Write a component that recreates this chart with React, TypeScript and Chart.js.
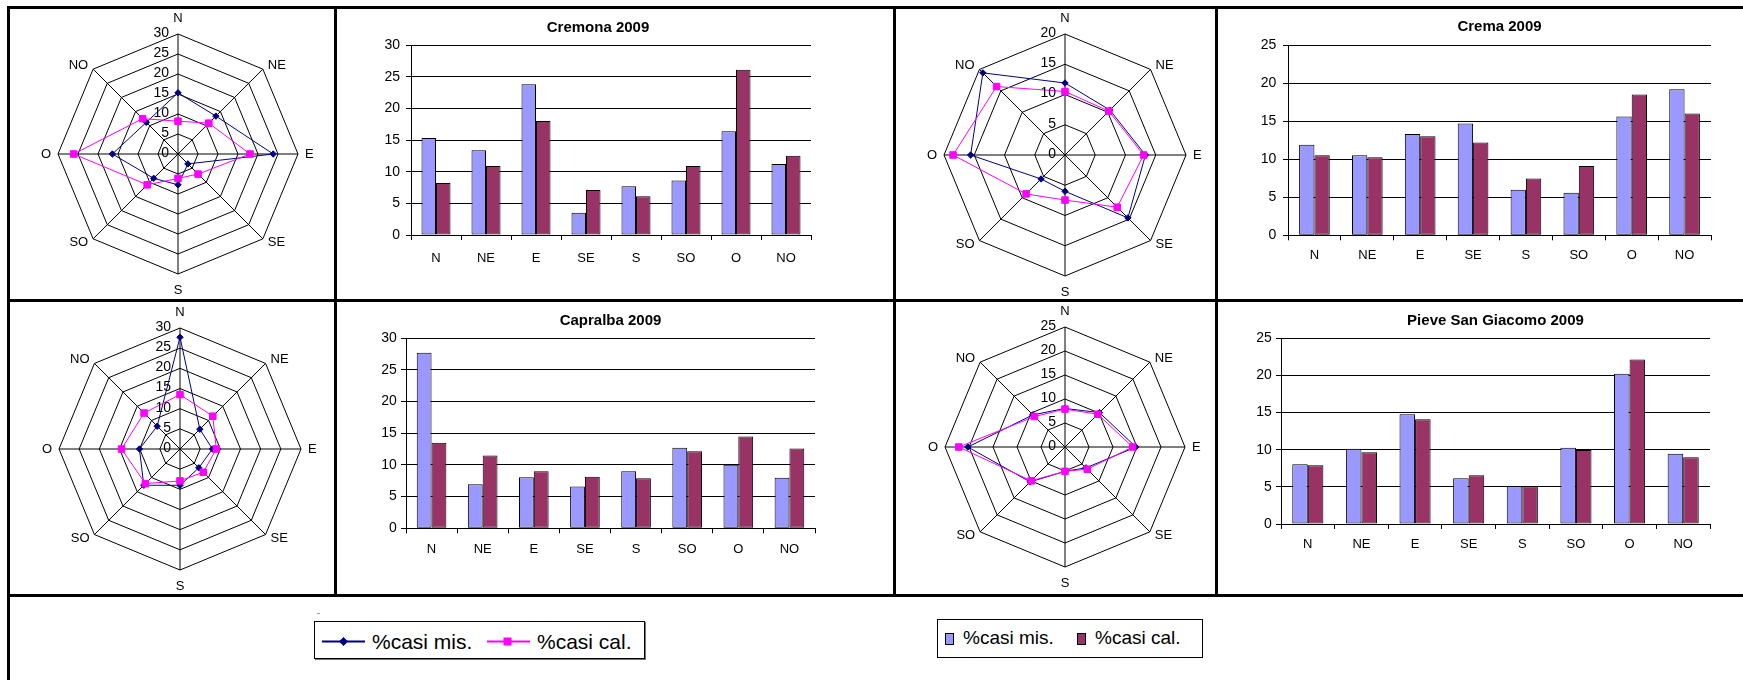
import React, { useEffect, useRef } from "react";
import { Chart, registerables } from "chart.js";

Chart.register(...registerables);

const FONT = "'Liberation Sans', Arial, Helvetica, sans-serif";
const NAVY = "#000080";
const MAGENTA = "#FF00FF";
const BAR_MIS = "#9999FF";
const BAR_CAL = "#993366";

// ---------- data ----------
const directions = ["N", "NE", "E", "SE", "S", "SO", "O", "NO"];
const seriesLabels = ["%casi mis.", "%casi cal."];

const cremonaTitle = "Cremona 2009";
const cremonaMis = [15.3, 13.4, 23.8, 3.5, 7.7, 8.6, 16.4, 11.2];
const cremonaCal = [8.2, 10.9, 18.0, 7.1, 6.1, 10.9, 26.1, 12.5];

const cremaTitle = "Crema 2009";
const cremaMis = [11.9, 10.5, 13.3, 14.7, 6.0, 5.6, 15.6, 19.2];
const cremaCal = [10.5, 10.25, 13.0, 12.2, 7.45, 9.1, 18.5, 16.0];

const capralbaTitle = "Capralba 2009";
const capralbaMis = [27.7, 6.95, 8.05, 6.6, 9.0, 12.7, 10.05, 8.0];
const capralbaCal = [13.5, 11.5, 9.0, 8.15, 7.9, 12.15, 14.5, 12.6];

const pieveTitle = "Pieve San Giacomo 2009";
const pieveMis = [8.03, 10.14, 14.77, 6.15, 5.07, 10.28, 20.24, 9.47];
const pieveCal = [7.9, 9.65, 14.1, 6.55, 5.07, 9.96, 22.13, 8.98];

const cremonaMax = 30;
const cremaRadarMax = 20;
const cremaBarMax = 25;
const capralbaMax = 30;
const pieveMax = 25;
const tickStep = 5;

// ---------- radar label plugin ----------
const radarText = {
  id: "radarText",
  afterDraw(chart: any) {
    const s = chart.scales.r;
    const ctx = chart.ctx;
    ctx.save();
    ctx.fillStyle = "#000";
    ctx.font = `14px ${FONT}`;
    ctx.textAlign = "right";
    ctx.textBaseline = "middle";
    for (const t of s.ticks) {
      const p = s.getPointPositionForValue(0, t.value);
      const lab = t.label !== undefined ? String(t.label) : String(t.value);
      ctx.fillText(lab, p.x - 9, p.y - 1);
    }
    ctx.font = `13px ${FONT}`;
    const labels: string[] = chart.data.labels;
    labels.forEach((lab, i) => {
      const p = s.getPointPosition(i, s.drawingArea);
      const a = s.getIndexAngle(i) - Math.PI / 2;
      const dx = Math.cos(a);
      const dy = Math.sin(a);
      let x = p.x;
      let y = p.y;
      if (Math.abs(dx) < 0.05) {
        ctx.textAlign = "center";
        y += dy < 0 ? -15.5 : 16.5;
      } else {
        ctx.textAlign = dx > 0 ? "left" : "right";
        x += dx * 7;
        y += dy * 5;
      }
      ctx.fillText(lab, x, y);
    });
    ctx.restore();
  },
};

function radarConfig(mis: number[], cal: number[], max: number, pad: any) {
  return {
    type: "radar",
    data: {
      labels: directions,
      datasets: [
        {
          label: seriesLabels[0],
          data: mis,
          borderColor: NAVY,
          backgroundColor: NAVY,
          pointBackgroundColor: NAVY,
          pointBorderColor: NAVY,
          pointStyle: "rectRot",
          pointRadius: 3.2,
          pointBorderWidth: 1,
          borderWidth: 1,
          fill: false,
          order: 1,
        },
        {
          label: seriesLabels[1],
          data: cal,
          borderColor: MAGENTA,
          backgroundColor: MAGENTA,
          pointBackgroundColor: MAGENTA,
          pointBorderColor: MAGENTA,
          pointStyle: "rect",
          pointRadius: 4.6,
          pointBorderWidth: 1,
          borderWidth: 1,
          fill: false,
          order: 0,
        },
      ],
    },
    options: {
      animation: false,
      responsive: false,
      events: [],
      layout: { padding: pad },
      plugins: {
        legend: { display: false },
        tooltip: { enabled: false },
        title: { display: false },
      },
      scales: {
        r: {
          min: 0,
          max,
          beginAtZero: true,
          ticks: { display: false, stepSize: tickStep },
          grid: { color: "#000", lineWidth: 1, circular: false },
          angleLines: { display: true, color: "#000", lineWidth: 1 },
          pointLabels: { display: false },
        },
      },
    },
    plugins: [radarText],
  };
}

function barConfig(mis: number[], cal: number[], title: string, max: number, g: any) {
  return {
    type: "bar",
    data: {
      labels: directions,
      datasets: [
        {
          label: seriesLabels[0],
          data: mis,
          backgroundColor: BAR_MIS,
          borderColor: "#000",
          borderWidth: 1,
          borderSkipped: false,
          categoryPercentage: 0.58,
          barPercentage: 1,
        },
        {
          label: seriesLabels[1],
          data: cal,
          backgroundColor: BAR_CAL,
          borderColor: "#000",
          borderWidth: 1,
          borderSkipped: false,
          categoryPercentage: 0.58,
          barPercentage: 1,
        },
      ],
    },
    options: {
      animation: false,
      responsive: false,
      events: [],
      layout: { padding: { left: g.pl, right: g.pr, top: g.pt, bottom: g.pb } },
      plugins: {
        legend: { display: false },
        tooltip: { enabled: false },
        title: {
          display: true,
          fullSize: g.fullTitle,
          text: title,
          color: "#000",
          font: { family: FONT, size: 15, weight: "bold", lineHeight: 1.2 },
          padding: { top: 0, bottom: g.tpb },
        },
      },
      scales: {
        x: {
          grid: {
            display: true,
            drawOnChartArea: false,
            drawTicks: true,
            tickLength: 5,
            color: "#000",
            offset: true,
          },
          border: { color: "#000", width: 1 },
          ticks: {
            color: "#000",
            font: { family: FONT, size: 13 },
            padding: g.xpad,
            maxRotation: 0,
            autoSkip: false,
          },
          afterFit: (s: any) => {
            s.height = 40;
          },
        },
        y: {
          min: 0,
          max,
          grid: { color: "#000", lineWidth: 1, tickLength: 5, drawTicks: true },
          border: { color: "#000", width: 1 },
          ticks: {
            stepSize: tickStep,
            color: "#000",
            font: { family: FONT, size: 14 },
            padding: g.ypad,
          },
          afterFit: (s: any) => {
            s.width = g.yw;
          },
        },
      },
    },
  };
}

function ChartBox(props: { left: number; top: number; width: number; height: number; build: () => any }) {
  const ref = useRef<HTMLCanvasElement | null>(null);
  useEffect(() => {
    const chart = new Chart(ref.current as HTMLCanvasElement, props.build());
    return () => chart.destroy();
  }, []);
  return (
    <canvas
      ref={ref}
      width={props.width}
      height={props.height}
      style={{
        position: "absolute",
        left: props.left,
        top: props.top,
        width: props.width,
        height: props.height,
      }}
    />
  );
}

function Line(p: { l: number; t: number; w: number; h: number }) {
  return <div style={{ position: "absolute", left: p.l, top: p.t, width: p.w, height: p.h, background: "#000" }} />;
}

export default function App() {
  const txt = (left: number, top: number, size: number, lh: number, s: string) => (
    <span
      style={{
        position: "absolute",
        left,
        top,
        fontSize: size,
        lineHeight: `${lh}px`,
        height: lh,
        whiteSpace: "nowrap",
        fontFamily: FONT,
        color: "#000",
      }}
    >
      {s}
    </span>
  );

  return (
    <div
      style={{
        position: "absolute",
        left: 0,
        top: 0,
        width: 1743,
        height: 680,
        overflow: "hidden",
        background: "#fff",
        fontFamily: FONT,
      }}
    >
      {/* table borders */}
      <Line l={7} t={6} w={1736} h={3} />
      <Line l={7} t={6} w={3} h={674} />
      <Line l={334} t={6} w={3} h={591} />
      <Line l={893} t={6} w={3} h={591} />
      <Line l={1215} t={6} w={3} h={591} />
      <Line l={7} t={299} w={1736} h={3} />
      <Line l={7} t={594} w={1736} h={3} />

      {/* radars */}
      <ChartBox left={10} top={9} width={324} height={290}
        build={() => radarConfig(cremonaMis, cremonaCal, cremonaMax, { left: 48, top: 25, right: 36, bottom: 25 })} />
      <ChartBox left={896} top={9} width={319} height={290}
        build={() => radarConfig(cremaMis, cremaCal, cremaRadarMax, { left: 48, top: 25, right: 29, bottom: 23 })} />
      <ChartBox left={10} top={302} width={324} height={292}
        build={() => radarConfig(capralbaMis, capralbaCal, capralbaMax, { left: 49, top: 26, right: 33, bottom: 24 })} />
      <ChartBox left={896} top={302} width={319} height={292}
        build={() => radarConfig(pieveMis, pieveCal, pieveMax, { left: 49, top: 25, right: 30, bottom: 27 })} />

      {/* bars */}
      <ChartBox left={337} top={9} width={550} height={290}
        build={() => barConfig(cremonaMis, cremonaCal, cremonaTitle, cremonaMax,
          { fullTitle: true, yw: 26, pl: 48, pr: 76, pt: 10, tpb: 8, pb: 24, xpad: 10.9, ypad: 6 })} />
      <ChartBox left={1218} top={9} width={525} height={290}
        build={() => barConfig(cremaMis, cremaCal, cremaTitle, cremaBarMax,
          { fullTitle: false, yw: 30, pl: 40, pr: 32, pt: 9.3, tpb: 8.7, pb: 23.7, xpad: 6.9, ypad: 6.7 })} />
      <ChartBox left={337} top={302} width={550} height={292}
        build={() => barConfig(capralbaMis, capralbaCal, capralbaTitle, capralbaMax,
          { fullTitle: false, yw: 30, pl: 39, pr: 72, pt: 9.7, tpb: 8.6, pb: 25.7, xpad: 8.2, ypad: 4.3 })} />
      <ChartBox left={1218} top={302} width={525} height={292}
        build={() => barConfig(pieveMis, pieveCal, pieveTitle, pieveMax,
          { fullTitle: false, yw: 30, pl: 33, pr: 33, pt: 9.7, tpb: 8.6, pb: 30, xpad: 7.2, ypad: 4.3 })} />

      {/* small mark above legend */}
      <div style={{ position: "absolute", left: 317, top: 613, width: 3, height: 1, background: "#999" }} />

      {/* line legend */}
      <div
        style={{
          position: "absolute",
          left: 314,
          top: 621,
          width: 331,
          height: 38,
          border: "1px solid #000",
          boxSizing: "border-box",
          boxShadow: "1px 1px 0 #777",
        }}
      >
        <svg width={329} height={36} style={{ position: "absolute", left: 0, top: 0 }}>
          <line x1={7} y1={19.5} x2={50} y2={19.5} stroke={NAVY} strokeWidth={2} />
          <polygon points="28.5,15 33,19.5 28.5,24 24,19.5" fill={NAVY} />
          <line x1={172} y1={19.5} x2={215} y2={19.5} stroke={MAGENTA} strokeWidth={2} />
          <rect x={188.5} y={15.5} width={8} height={8} fill={MAGENTA} />
        </svg>
        {txt(57, 8, 21, 24, seriesLabels[0])}
        {txt(222, 8, 21, 24, seriesLabels[1])}
      </div>

      {/* bar legend */}
      <div
        style={{
          position: "absolute",
          left: 937,
          top: 619,
          width: 266,
          height: 39,
          border: "1px solid #000",
          boxSizing: "border-box",
        }}
      >
        <div style={{ position: "absolute", left: 7, top: 13, width: 9, height: 12, background: BAR_MIS, border: "1px solid #000", boxSizing: "border-box" }} />
        {txt(25, 7, 19, 22, seriesLabels[0])}
        <div style={{ position: "absolute", left: 139, top: 13, width: 9, height: 12, background: BAR_CAL, border: "1px solid #000", boxSizing: "border-box" }} />
        {txt(157, 7, 19, 22, seriesLabels[1])}
      </div>
    </div>
  );
}
